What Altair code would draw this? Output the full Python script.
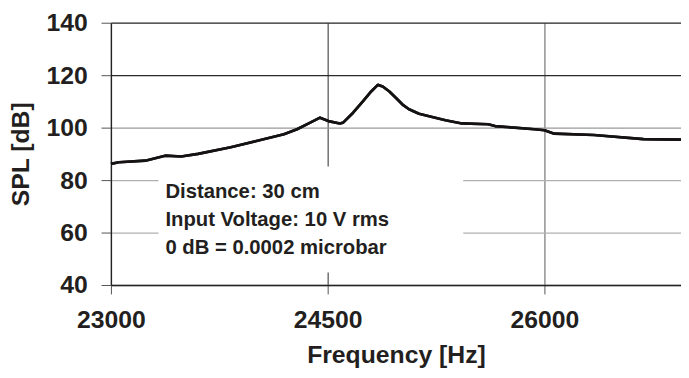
import altair as alt
import pandas as pd

# ---- data ----
freq = [23000, 23055, 23238, 23375, 23486, 23603, 23829, 24014, 24197, 24288,
        24379, 24447, 24505, 24584, 24607, 24676, 24745, 24801, 24847, 24881,
        24927, 24973, 25018, 25063, 25132, 25315, 25429, 25611, 25658, 25931,
        26000, 26068, 26342, 26685, 26945]
spl = [86.2, 86.8, 87.4, 89.3, 89.0, 90.0, 92.5, 95.0, 97.5, 99.4,
       101.9, 103.8, 102.5, 101.6, 101.9, 105.7, 110.1, 113.8, 116.3, 115.7,
       113.8, 111.3, 108.8, 107.0, 105.3, 102.8, 101.6, 101.3, 100.6, 99.4,
       99.0, 97.7, 97.2, 95.6, 95.4]

x_ticks = [23000, 24500, 26000]
y_ticks = [40, 60, 80, 100, 120, 140]

note_lines = ["Distance: 30 cm", "Input Voltage: 10 V rms", "0 dB = 0.0002 microbar"]
note_x = [23377, 23377, 23377]
note_y = [73.1, 62.5, 52.0]

box_x = [23329]
box_x2 = [25438]
box_y = [44.8]
box_y2 = [85.2]

FONT = "Liberation Sans"
INK = "#231f20"

df = pd.DataFrame({"f": freq, "spl": spl})
notes = pd.DataFrame({"t": note_lines, "x": note_x, "y": note_y})
box = pd.DataFrame({"x": box_x, "x2": box_x2, "y": box_y, "y2": box_y2})

xscale = alt.Scale(domain=[23000, 26945], nice=False, zero=False)
yscale = alt.Scale(domain=[40, 140], nice=False, zero=False)

x_axis = alt.Axis(
    title="Frequency [Hz]", values=x_ticks, format="d", labelFlush=False,
    labelFont=FONT, labelFontSize=25, labelFontWeight="bold", labelColor=INK,
    titleFont=FONT, titleFontSize=25, titleFontWeight="bold", titleColor=INK,
    tickSize=9, tickColor="#555", labelPadding=14, titlePadding=10,
    domainColor="#222", domainWidth=1.5,
    grid=True, gridWidth=1.3,
    gridColor={"condition": {"test": "datum.value == 24500", "value": "#5a5a5a"}, "value": "#808080"},
)
y_axis = alt.Axis(
    title="SPL [dB]", values=y_ticks, labelFlush=False,
    labelFont=FONT, labelFontSize=25, labelFontWeight="bold", labelColor=INK,
    titleFont=FONT, titleFontSize=25, titleFontWeight="bold", titleColor=INK,
    tickSize=10, tickColor="#555", labelPadding=14, titlePadding=13,
    domainColor="#222", domainWidth=1.3,
    grid=True, gridWidth=1.3,
    gridColor={"condition": [
        {"test": "datum.value >= 120", "value": "#2a2a2a"},
        {"test": "datum.value == 100", "value": "#9a9a9a"}],
        "value": "#b0b0b0"},
)

base_x = alt.X("f:Q", scale=xscale, axis=x_axis)
base_y = alt.Y("spl:Q", scale=yscale, axis=y_axis)

rect = alt.Chart(box).mark_rect(color="white").encode(
    x=alt.X("x:Q", scale=xscale), x2="x2:Q",
    y=alt.Y("y:Q", scale=yscale), y2="y2:Q",
)

line = alt.Chart(df).mark_line(color="#151212", strokeWidth=2.7, strokeJoin="round").encode(
    x=base_x, y=base_y
)

text = alt.Chart(notes).mark_text(
    align="left", baseline="alphabetic", font=FONT, fontSize=20.5,
    fontWeight="bold", color=INK
).encode(
    x=alt.X("x:Q", scale=xscale), y=alt.Y("y:Q", scale=yscale), text="t:N"
)

chart = alt.layer(line, rect, line, text).properties(
    width=576, height=265,
    autosize=alt.AutoSizeParams(type="none"),
    padding={"left": 104, "top": 13, "right": 0, "bottom": 84},
).configure_view(stroke=None).configure(background="white")

chart.save("out.html", embed_options={"renderer": "svg", "actions": False})
